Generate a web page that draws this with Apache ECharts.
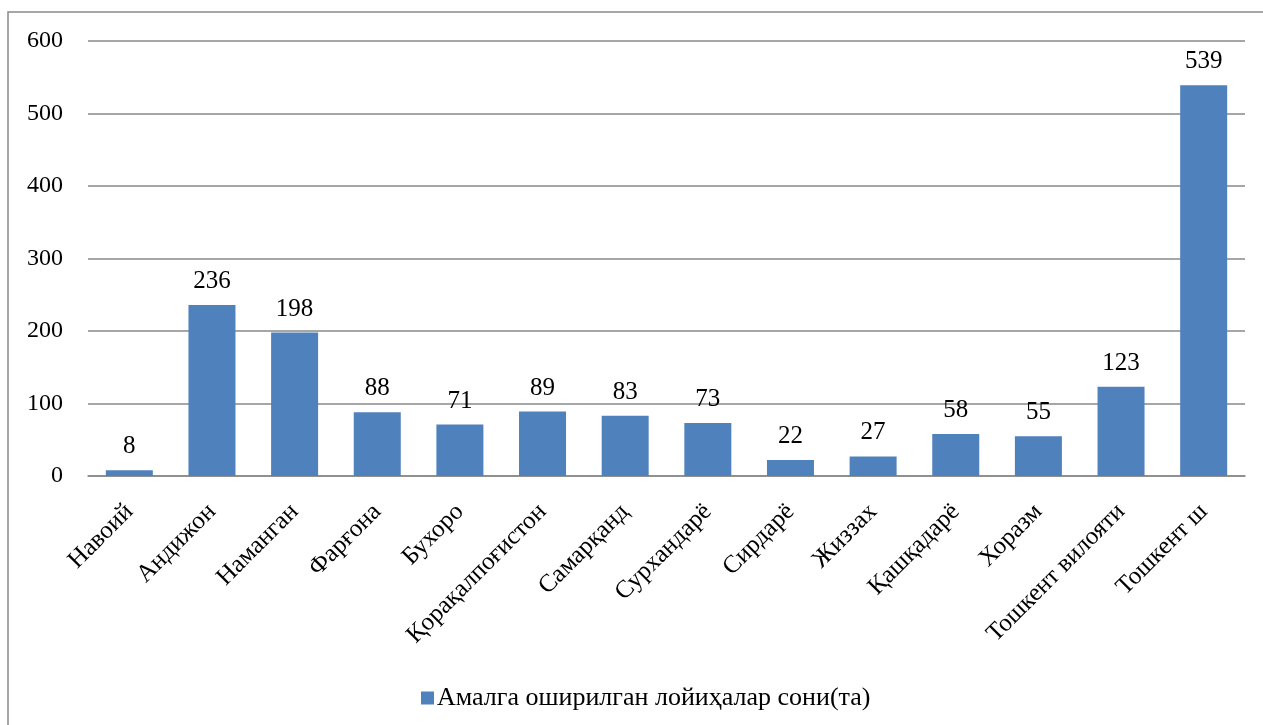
<!DOCTYPE html>
<html>
<head>
	<meta charset="utf-8">
	<script type="text/javascript" src="https://cdn.jsdelivr.net/npm/echarts@6/dist/echarts.min.js"></script>
	<style>
		html, body { margin: 0; padding: 0; background: #fff; }
	</style>
</head>
<body>
<div id="main" style="width:1263px;height:725px;"></div>
<script type="text/javascript">
  // регионлар
  var regions = ['Навоий', 'Андижон', 'Наманган', 'Фарғона', 'Бухоро', 'Қорақалпоғистон', 'Самарқанд',
    'Сурхандарё', 'Сирдарё', 'Жиззах', 'Қашқадарё', 'Хоразм', 'Тошкент вилояти', 'Тошкент ш'];
  var projects = [8, 236, 198, 88, 71, 89, 83, 73, 22, 27, 58, 55, 123, 539];
  var seriesName = 'Амалга оширилган лойиҳалар сони(та)';

  var font = 'Liberation Serif';
  var myChart = echarts.init(document.getElementById('main'));

  var option = {
    animation: false,
    textStyle: { fontFamily: font },
    graphic: [{
      type: 'rect',
      shape: { x: 8, y: 12, width: 1270, height: 730 },
      style: { fill: 'none', stroke: '#898989', lineWidth: 1.5 },
      silent: true
    }],
    grid: { left: 88, right: 18, top: 41, bottom: 249 },
    legend: {
      top: 680,
      left: 416,
      itemWidth: 13,
      itemHeight: 13,
      itemGap: 4,
      icon: 'rect',
      textStyle: { fontFamily: font, fontSize: 26, color: '#000', padding: [0, 0, 0, -2] },
      data: [seriesName]
    },
    xAxis: {
      type: 'category',
      data: regions,
      axisTick: { show: false },
      axisLine: { lineStyle: { color: '#898989', width: 1.5 } },
      axisLabel: {
        rotate: 45,
        interval: 0,
        color: '#000',
        fontFamily: font,
        fontSize: 25,
        margin: 32
      }
    },
    yAxis: {
      type: 'value',
      min: 0,
      max: 600,
      interval: 100,
      axisLine: { show: false },
      axisTick: { show: false },
      splitLine: { lineStyle: { color: '#898989', width: 1.5 } },
      axisLabel: {
        margin: 25,
        formatter: function (v) { return '{t|' + v + '}'; },
        rich: { t: { color: '#000', fontFamily: font, fontSize: 24 } }
      }
    },
    series: [{
      name: seriesName,
      type: 'bar',
      data: projects,
      barWidth: 47,
      itemStyle: { color: '#4F81BD' },
      label: {
        show: true,
        position: 'top',
        distance: 11,
        color: '#000',
        fontFamily: font,
        fontSize: 25
      }
    }]
  };
  myChart.setOption(option);
</script>
</body>
</html>
